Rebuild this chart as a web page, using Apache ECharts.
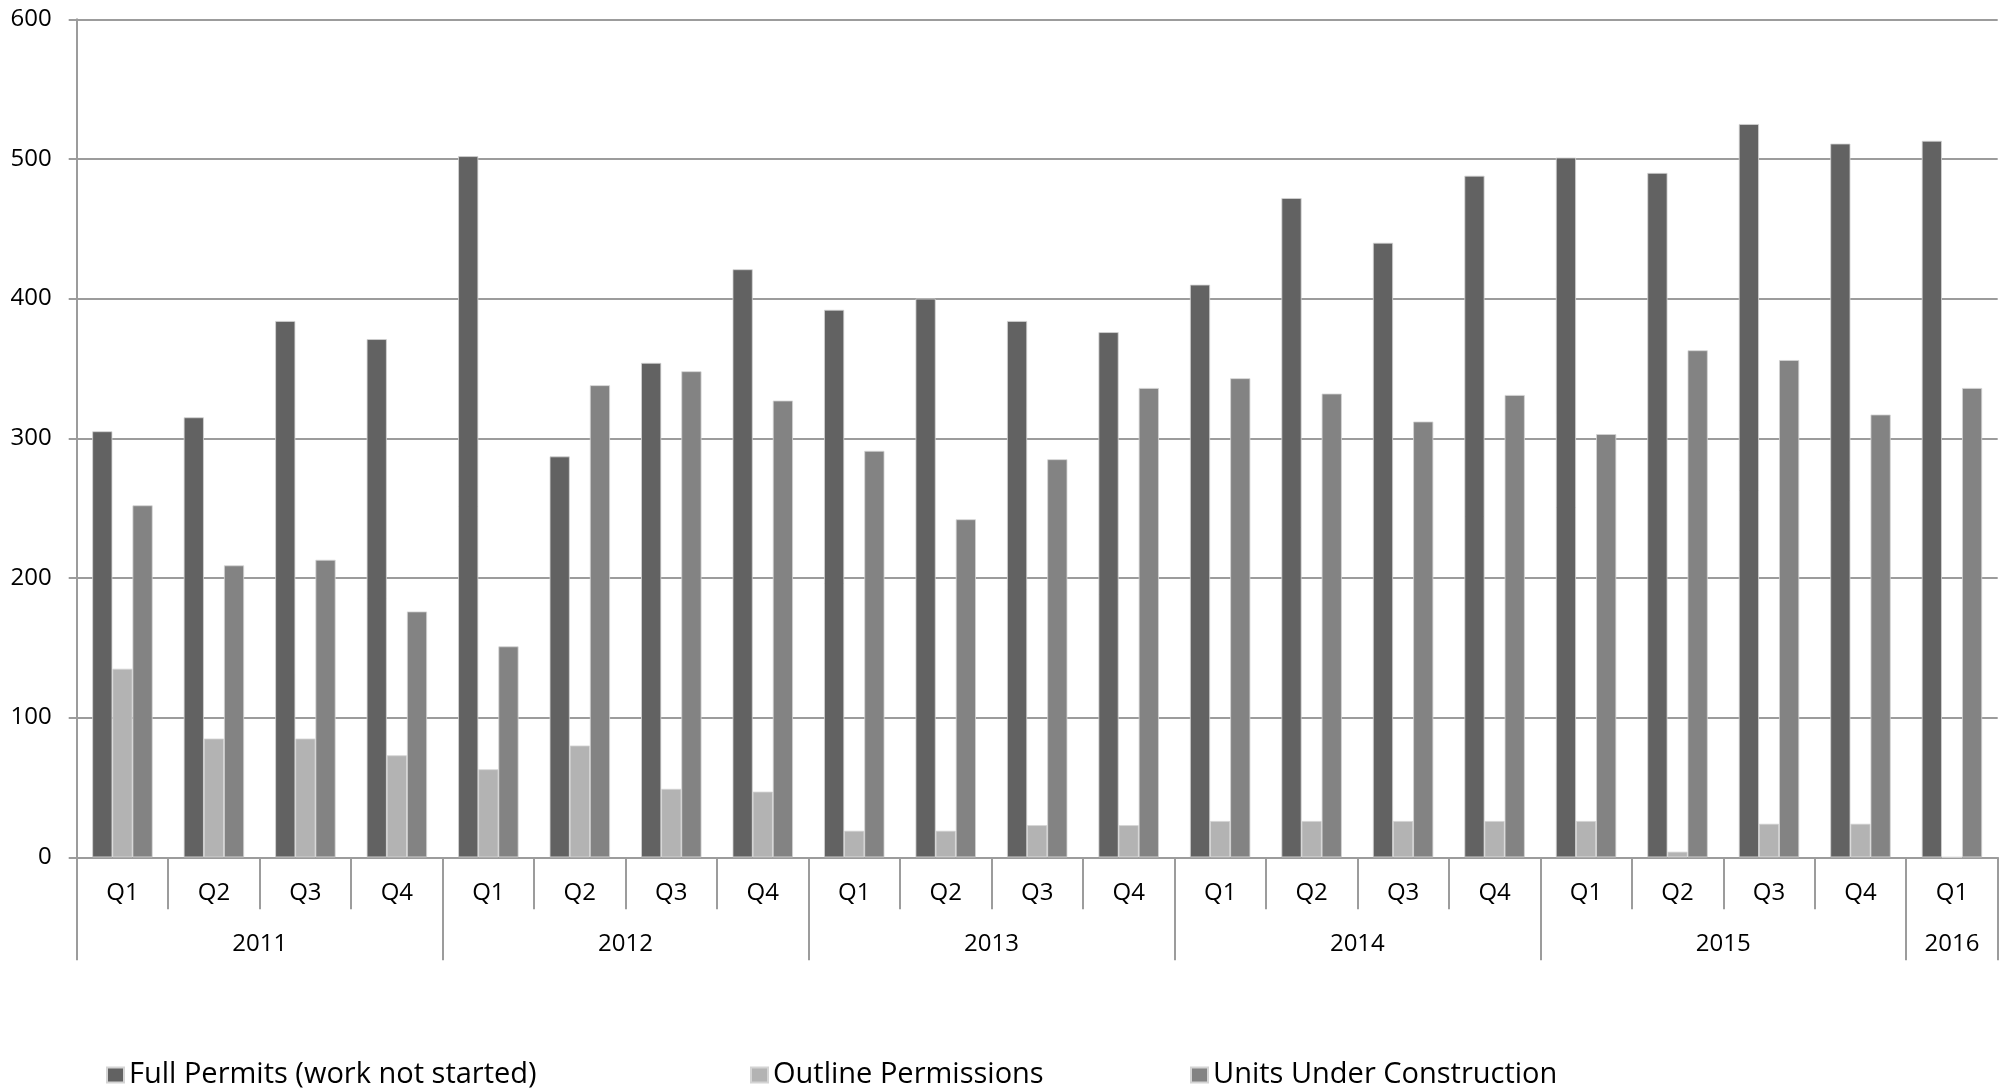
<!DOCTYPE html>
<html>
<head>
    <meta charset="utf-8">
    <title>Permissions and construction</title>
    <script src="https://cdn.jsdelivr.net/npm/echarts@6/dist/echarts.min.js"></script>
    <style>
        html, body { margin: 0; padding: 0; background: #fff; }
    </style>
</head>
<body>
    <div id="main" style="width: 2011px;height:1092px;"></div>
    <script type="text/javascript">
        // quarters per year on the lower axis row
        var years = ['2011', '2012', '2013', '2014', '2015', '2016'];
        var quartersInYear = [4, 4, 4, 4, 4, 1];
        var quarterNames = ['Q1', 'Q2', 'Q3', 'Q4'];

        var seriesNames = ['Full Permits (work not started)', 'Outline Permissions', 'Units Under Construction'];
        var fullPermits = [305, 315, 384, 371, 502, 287, 354, 421, 392, 400, 384, 376, 410, 472, 440, 488, 501, 490, 525, 511, 513];
        var outlinePermissions = [135, 85, 85, 73, 63, 80, 49, 47, 19, 19, 23, 23, 26, 26, 26, 26, 26, 4, 24, 24, 0];
        var underConstruction = [252, 209, 213, 176, 151, 338, 348, 327, 291, 242, 285, 336, 343, 332, 312, 331, 303, 363, 356, 317, 336];

        var yTicks = { min: 0, max: 600, interval: 100 };

        // build category rows
        var quarters = [];
        years.forEach(function (y, i) {
            for (var q = 0; q < quartersInYear[i]; q++) quarters.push(quarterNames[q]);
        });
        // year row: half-quarter points, boundaryGap false, so label sits at group centre
        var nPts = quarters.length * 2 + 1;
        var yearSlots = [];
        for (var k = 0; k < nPts; k++) yearSlots.push('');
        var yearBounds = {};
        var start = 0;
        years.forEach(function (y, i) {
            yearBounds[2 * start] = true;
            yearSlots[2 * start + quartersInYear[i]] = y;
            start += quartersInYear[i];
        });
        yearBounds[2 * start] = true;

        var chartDom = document.getElementById('main');
        var myChart = echarts.init(chartDom);
        var font = '"Open Sans", sans-serif';
        var lineCol = '#9c9c9c';

        function legendAt(name, left) {
            return {
                data: [name],
                left: left,
                top: 1060,
                padding: 0,
                icon: 'rect',
                itemWidth: 17,
                itemHeight: 15,
                selectedMode: false,
                textStyle: { fontFamily: font, fontSize: 29, lineHeight: 30, color: '#000' }
            };
        }

        var option = {
            animation: false,
            color: ['#626262', '#b3b3b3', '#838383'],
            legend: [
                legendAt(seriesNames[0], 106),
                legendAt(seriesNames[1], 750),
                legendAt(seriesNames[2], 1190)
            ],
            grid: {
                left: 76.7,
                right: 13.3,
                top: 19.3,
                bottom: 234.7,
                containLabel: false
            },
            xAxis: [{
                type: 'category',
                data: quarters,
                position: 'bottom',
                axisLine: { lineStyle: { color: lineCol, width: 2 } },
                axisTick: { show: true, length: 52, lineStyle: { color: lineCol, width: 2 } },
                axisLabel: { interval: 0, margin: 24, fontFamily: font, fontSize: 24, color: '#000' }
            }, {
                type: 'category',
                data: yearSlots,
                position: 'bottom',
                offset: 52,
                boundaryGap: false,
                axisLine: { show: false },
                axisTick: {
                    show: true,
                    length: 51,
                    interval: function (idx) { return !!yearBounds[idx]; },
                    lineStyle: { color: lineCol, width: 2 }
                },
                axisLabel: { interval: 0, margin: 23, fontFamily: font, fontSize: 24, color: '#000' }
            }],
            yAxis: {
                type: 'value',
                min: yTicks.min,
                max: yTicks.max,
                interval: yTicks.interval,
                axisLine: { show: true, lineStyle: { color: lineCol, width: 2 } },
                axisTick: { show: true, length: 8, lineStyle: { color: lineCol, width: 2 } },
                axisLabel: { margin: 25, fontFamily: font, fontSize: 24, color: '#000' },
                splitLine: { lineStyle: { color: lineCol, width: 2 } }
            },
            series: [{
                name: seriesNames[0],
                type: 'bar',
                data: fullPermits,
                barGap: '0%',
                barCategoryGap: '34%',
                itemStyle: { borderColor: '#d4d4d4', borderWidth: 0.8 }
            }, {
                name: seriesNames[1],
                type: 'bar',
                data: outlinePermissions,
                barGap: '0%',
                barCategoryGap: '34%',
                itemStyle: { borderColor: '#d4d4d4', borderWidth: 0.8 }
            }, {
                name: seriesNames[2],
                type: 'bar',
                data: underConstruction,
                barGap: '0%',
                barCategoryGap: '34%',
                itemStyle: { borderColor: '#d4d4d4', borderWidth: 0.8 }
            }]
        };

        option && myChart.setOption(option);
    </script>
</body>
</html>
